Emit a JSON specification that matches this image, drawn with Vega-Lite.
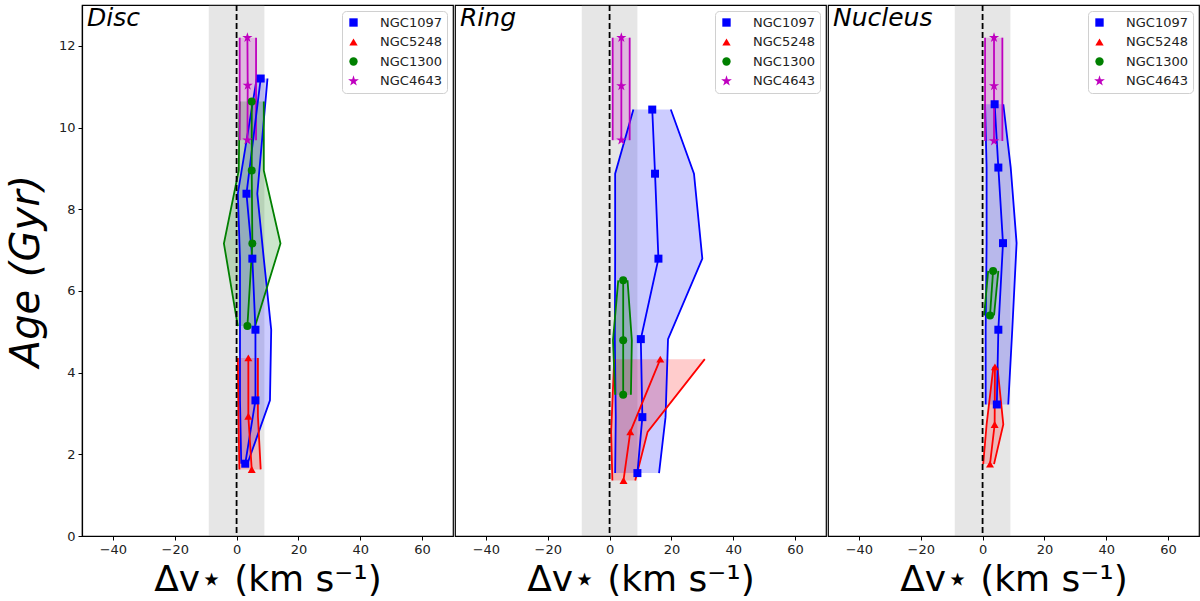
{
  "$schema": "https://vega.github.io/schema/vega-lite/v6.json",
  "padding": {"left": 5, "top": 3, "right": 0, "bottom": 0},
  "background": "white",
  "datasets": {
    "pts": [
      {"panel": "Disc", "galaxy": "NGC1097", "age": 11.2, "v": 7.8, "lo": 6.5, "hi": 10.0},
      {"panel": "Disc", "galaxy": "NGC1097", "age": 8.38, "v": 3.2, "lo": 0.4, "hi": 6.7},
      {"panel": "Disc", "galaxy": "NGC1097", "age": 6.79, "v": 5.1, "lo": 1.1, "hi": 8.8},
      {"panel": "Disc", "galaxy": "NGC1097", "age": 5.05, "v": 6.1, "lo": 1.1, "hi": 11.2},
      {"panel": "Disc", "galaxy": "NGC1097", "age": 3.32, "v": 6.1, "lo": 1.1, "hi": 10.8},
      {"panel": "Disc", "galaxy": "NGC1097", "age": 1.77, "v": 2.8, "lo": 1.5, "hi": 3.5},
      {"panel": "Disc", "galaxy": "NGC5248", "age": 4.36, "v": 3.8, "lo": 0.4, "hi": 6.9},
      {"panel": "Disc", "galaxy": "NGC5248", "age": 2.93, "v": 3.8, "lo": 0.6, "hi": 6.9},
      {"panel": "Disc", "galaxy": "NGC5248", "age": 1.63, "v": 4.9, "lo": 0.9, "hi": 7.8},
      {"panel": "Disc", "galaxy": "NGC1300", "age": 10.64, "v": 4.9, "lo": 1.0, "hi": 8.8},
      {"panel": "Disc", "galaxy": "NGC1300", "age": 8.95, "v": 4.9, "lo": 0.7, "hi": 8.8},
      {"panel": "Disc", "galaxy": "NGC1300", "age": 7.16, "v": 5.1, "lo": -4.1, "hi": 14.2},
      {"panel": "Disc", "galaxy": "NGC1300", "age": 5.14, "v": 3.5, "lo": 0.4, "hi": 6.0},
      {"panel": "Disc", "galaxy": "NGC4643", "age": 12.2, "v": 3.5, "lo": 1.0, "hi": 6.3},
      {"panel": "Disc", "galaxy": "NGC4643", "age": 11.03, "v": 3.6, "lo": 1.0, "hi": 6.3},
      {"panel": "Disc", "galaxy": "NGC4643", "age": 9.69, "v": 3.5, "lo": 1.0, "hi": 6.3},
      {"panel": "Ring", "galaxy": "NGC1097", "age": 10.44, "v": 13.8, "lo": 7.7, "hi": 19.8},
      {"panel": "Ring", "galaxy": "NGC1097", "age": 8.87, "v": 14.7, "lo": 1.8, "hi": 27.3},
      {"panel": "Ring", "galaxy": "NGC1097", "age": 6.79, "v": 15.8, "lo": 1.8, "hi": 30.0},
      {"panel": "Ring", "galaxy": "NGC1097", "age": 4.82, "v": 10.1, "lo": 1.7, "hi": 18.9},
      {"panel": "Ring", "galaxy": "NGC1097", "age": 2.91, "v": 10.6, "lo": 2.0, "hi": 18.1},
      {"panel": "Ring", "galaxy": "NGC1097", "age": 1.54, "v": 9.0, "lo": 1.8, "hi": 16.0},
      {"panel": "Ring", "galaxy": "NGC5248", "age": 4.33, "v": 16.4, "lo": 1.5, "hi": 30.8},
      {"panel": "Ring", "galaxy": "NGC5248", "age": 2.55, "v": 6.7, "lo": 0.5, "hi": 12.3},
      {"panel": "Ring", "galaxy": "NGC5248", "age": 1.36, "v": 4.5, "lo": 0.9, "hi": 8.3},
      {"panel": "Ring", "galaxy": "NGC1300", "age": 6.26, "v": 4.4, "lo": 2.8, "hi": 5.8},
      {"panel": "Ring", "galaxy": "NGC1300", "age": 4.79, "v": 4.4, "lo": 1.1, "hi": 7.2},
      {"panel": "Ring", "galaxy": "NGC1300", "age": 3.46, "v": 4.4, "lo": 1.8, "hi": 6.9},
      {"panel": "Ring", "galaxy": "NGC4643", "age": 12.2, "v": 3.8, "lo": 1.0, "hi": 6.5},
      {"panel": "Ring", "galaxy": "NGC4643", "age": 11.02, "v": 3.8, "lo": 1.0, "hi": 6.5},
      {"panel": "Ring", "galaxy": "NGC4643", "age": 9.69, "v": 3.8, "lo": 1.0, "hi": 6.5},
      {"panel": "Nucleus", "galaxy": "NGC1097", "age": 10.57, "v": 3.9, "lo": 0.8, "hi": 6.7},
      {"panel": "Nucleus", "galaxy": "NGC1097", "age": 9.02, "v": 5.1, "lo": 1.3, "hi": 9.1},
      {"panel": "Nucleus", "galaxy": "NGC1097", "age": 7.17, "v": 6.6, "lo": 1.3, "hi": 11.0},
      {"panel": "Nucleus", "galaxy": "NGC1097", "age": 5.05, "v": 5.1, "lo": 1.0, "hi": 9.6},
      {"panel": "Nucleus", "galaxy": "NGC1097", "age": 3.22, "v": 4.6, "lo": 1.0, "hi": 8.3},
      {"panel": "Nucleus", "galaxy": "NGC5248", "age": 4.14, "v": 4.0, "lo": 3.5, "hi": 4.8},
      {"panel": "Nucleus", "galaxy": "NGC5248", "age": 2.73, "v": 3.9, "lo": 1.3, "hi": 6.7},
      {"panel": "Nucleus", "galaxy": "NGC5248", "age": 1.76, "v": 2.4, "lo": 0.2, "hi": 3.7},
      {"panel": "Nucleus", "galaxy": "NGC1300", "age": 6.49, "v": 3.4, "lo": 1.8, "hi": 5.1},
      {"panel": "Nucleus", "galaxy": "NGC1300", "age": 5.4, "v": 2.4, "lo": 0.5, "hi": 3.7},
      {"panel": "Nucleus", "galaxy": "NGC4643", "age": 12.2, "v": 3.7, "lo": 0.8, "hi": 6.4},
      {"panel": "Nucleus", "galaxy": "NGC4643", "age": 11.02, "v": 3.7, "lo": 0.8, "hi": 6.4},
      {"panel": "Nucleus", "galaxy": "NGC4643", "age": 9.67, "v": 3.7, "lo": 0.8, "hi": 6.4}
    ]
  },
  "resolve": {"scale": {"color": "independent", "shape": "independent"}, "legend": {"color": "independent", "shape": "independent"}},
  "hconcat": [
    {
      "width": 371, "height": 531,
      "layer": [
        {"data": {"values": [{}]}, "mark": {"type": "rect", "color": "#808080", "opacity": 0.2},
         "encoding": {"x": {"datum": -9, "type": "quantitative", "scale": {"domain": [-50, 70], "nice": false, "zero": false}}, "x2": {"datum": 9}}},
        {"data": {"name": "pts"}, "transform": [{"filter": "datum.panel === 'Disc'"}],
         "resolve": {"legend": {"color": "independent", "shape": "independent"}},
         "layer": [
           {"mark": {"type": "area", "orient": "horizontal", "opacity": 0.2},
            "encoding": {
              "y": {"field": "age", "type": "quantitative", "scale": {"domain": [0, 13], "nice": false, "zero": false},
                    "axis": {"values": [0, 2, 4, 6, 8, 10, 12], "title": "Age (Gyr)", "titleFontSize": 40, "titleFontStyle": "italic", "titlePadding": 12}},
              "x": {"field": "lo", "type": "quantitative", "scale": {"domain": [-50, 70], "nice": false, "zero": false},
                    "axis": {"values": [-40, -20, 0, 20, 40, 60], "title": "Δv⋆ (km s⁻¹)", "titleFontSize": 36, "titlePadding": 6}},
              "x2": {"field": "hi"},
              "color": {"field": "galaxy", "type": "nominal", "legend": null, "scale": {"domain": ["NGC1097", "NGC5248", "NGC1300", "NGC4643"], "range": ["#0000ff", "#ff0000", "#008000", "#bf00bf"]}}
            }},
           {"mark": {"type": "line", "strokeWidth": 1.8},
            "encoding": {"y": {"field": "age", "type": "quantitative"}, "x": {"field": "lo", "type": "quantitative"}, "order": {"field": "age"},
              "color": {"field": "galaxy", "type": "nominal", "legend": null}}},
           {"mark": {"type": "line", "strokeWidth": 1.8},
            "encoding": {"y": {"field": "age", "type": "quantitative"}, "x": {"field": "hi", "type": "quantitative"}, "order": {"field": "age"},
              "color": {"field": "galaxy", "type": "nominal", "legend": null}}},
           {"mark": {"type": "line", "strokeWidth": 1.8},
            "encoding": {"y": {"field": "age", "type": "quantitative"}, "x": {"field": "v", "type": "quantitative"}, "order": {"field": "age"},
              "color": {"field": "galaxy", "type": "nominal", "legend": null}}},
           {"mark": {"type": "point", "filled": true, "opacity": 1, "size": 64},
            "encoding": {"y": {"field": "age", "type": "quantitative"}, "x": {"field": "v", "type": "quantitative"},
              "color": {"field": "galaxy", "type": "nominal", "legend": {"title": null}},
              "shape": {"field": "galaxy", "type": "nominal", "legend": {"title": null}, "scale": {"domain": ["NGC1097", "NGC5248", "NGC1300", "NGC4643"], "range": ["square", "triangle-up", "circle", "M0,-1.35L0.303,-0.417L1.284,-0.417L0.49,0.159L0.794,1.092L0,0.516L-0.794,1.092L-0.49,0.159L-1.284,-0.417L-0.303,-0.417Z"]}}}}
         ]},
        {"data": {"values": [{}]}, "mark": {"type": "rule", "color": "black", "strokeWidth": 1.8, "strokeDash": [6, 3]},
         "encoding": {"x": {"datum": 0, "type": "quantitative"}}},
        {"data": {"values": [{"label": "Disc"}]}, "mark": {"type": "text", "align": "left", "baseline": "top", "fontSize": 25, "fontStyle": "italic", "dx": 5, "dy": 1, "color": "black"},
         "encoding": {"x": {"datum": -50, "type": "quantitative"}, "y": {"datum": 13, "type": "quantitative"}, "text": {"field": "label"}}}
      ]
    },
    {
      "width": 371, "height": 531,
      "layer": [
        {"data": {"values": [{}]}, "mark": {"type": "rect", "color": "#808080", "opacity": 0.2},
         "encoding": {"x": {"datum": -9, "type": "quantitative", "scale": {"domain": [-50, 70], "nice": false, "zero": false}}, "x2": {"datum": 9}}},
        {"data": {"name": "pts"}, "transform": [{"filter": "datum.panel === 'Ring'"}],
         "resolve": {"legend": {"color": "independent", "shape": "independent"}},
         "layer": [
           {"mark": {"type": "area", "orient": "horizontal", "opacity": 0.2},
            "encoding": {
              "y": {"field": "age", "type": "quantitative", "scale": {"domain": [0, 13], "nice": false, "zero": false}, "axis": null},
              "x": {"field": "lo", "type": "quantitative", "scale": {"domain": [-50, 70], "nice": false, "zero": false},
                    "axis": {"values": [-40, -20, 0, 20, 40, 60], "title": "Δv⋆ (km s⁻¹)", "titleFontSize": 36, "titlePadding": 6}},
              "x2": {"field": "hi"},
              "color": {"field": "galaxy", "type": "nominal", "legend": null, "scale": {"domain": ["NGC1097", "NGC5248", "NGC1300", "NGC4643"], "range": ["#0000ff", "#ff0000", "#008000", "#bf00bf"]}}
            }},
           {"mark": {"type": "line", "strokeWidth": 1.8},
            "encoding": {"y": {"field": "age", "type": "quantitative"}, "x": {"field": "lo", "type": "quantitative"}, "order": {"field": "age"},
              "color": {"field": "galaxy", "type": "nominal", "legend": null}}},
           {"mark": {"type": "line", "strokeWidth": 1.8},
            "encoding": {"y": {"field": "age", "type": "quantitative"}, "x": {"field": "hi", "type": "quantitative"}, "order": {"field": "age"},
              "color": {"field": "galaxy", "type": "nominal", "legend": null}}},
           {"mark": {"type": "line", "strokeWidth": 1.8},
            "encoding": {"y": {"field": "age", "type": "quantitative"}, "x": {"field": "v", "type": "quantitative"}, "order": {"field": "age"},
              "color": {"field": "galaxy", "type": "nominal", "legend": null}}},
           {"mark": {"type": "point", "filled": true, "opacity": 1, "size": 64},
            "encoding": {"y": {"field": "age", "type": "quantitative"}, "x": {"field": "v", "type": "quantitative"},
              "color": {"field": "galaxy", "type": "nominal", "legend": {"title": null}},
              "shape": {"field": "galaxy", "type": "nominal", "legend": {"title": null}, "scale": {"domain": ["NGC1097", "NGC5248", "NGC1300", "NGC4643"], "range": ["square", "triangle-up", "circle", "M0,-1.35L0.303,-0.417L1.284,-0.417L0.49,0.159L0.794,1.092L0,0.516L-0.794,1.092L-0.49,0.159L-1.284,-0.417L-0.303,-0.417Z"]}}}}
         ]},
        {"data": {"values": [{}]}, "mark": {"type": "rule", "color": "black", "strokeWidth": 1.8, "strokeDash": [6, 3]},
         "encoding": {"x": {"datum": 0, "type": "quantitative"}}},
        {"data": {"values": [{"label": "Ring"}]}, "mark": {"type": "text", "align": "left", "baseline": "top", "fontSize": 25, "fontStyle": "italic", "dx": 5, "dy": 1, "color": "black"},
         "encoding": {"x": {"datum": -50, "type": "quantitative"}, "y": {"datum": 13, "type": "quantitative"}, "text": {"field": "label"}}}
      ]
    },
    {
      "width": 371, "height": 531,
      "layer": [
        {"data": {"values": [{}]}, "mark": {"type": "rect", "color": "#808080", "opacity": 0.2},
         "encoding": {"x": {"datum": -9, "type": "quantitative", "scale": {"domain": [-50, 70], "nice": false, "zero": false}}, "x2": {"datum": 9}}},
        {"data": {"name": "pts"}, "transform": [{"filter": "datum.panel === 'Nucleus'"}],
         "resolve": {"legend": {"color": "independent", "shape": "independent"}},
         "layer": [
           {"mark": {"type": "area", "orient": "horizontal", "opacity": 0.2},
            "encoding": {
              "y": {"field": "age", "type": "quantitative", "scale": {"domain": [0, 13], "nice": false, "zero": false}, "axis": null},
              "x": {"field": "lo", "type": "quantitative", "scale": {"domain": [-50, 70], "nice": false, "zero": false},
                    "axis": {"values": [-40, -20, 0, 20, 40, 60], "title": "Δv⋆ (km s⁻¹)", "titleFontSize": 36, "titlePadding": 6}},
              "x2": {"field": "hi"},
              "color": {"field": "galaxy", "type": "nominal", "legend": null, "scale": {"domain": ["NGC1097", "NGC5248", "NGC1300", "NGC4643"], "range": ["#0000ff", "#ff0000", "#008000", "#bf00bf"]}}
            }},
           {"mark": {"type": "line", "strokeWidth": 1.8},
            "encoding": {"y": {"field": "age", "type": "quantitative"}, "x": {"field": "lo", "type": "quantitative"}, "order": {"field": "age"},
              "color": {"field": "galaxy", "type": "nominal", "legend": null}}},
           {"mark": {"type": "line", "strokeWidth": 1.8},
            "encoding": {"y": {"field": "age", "type": "quantitative"}, "x": {"field": "hi", "type": "quantitative"}, "order": {"field": "age"},
              "color": {"field": "galaxy", "type": "nominal", "legend": null}}},
           {"mark": {"type": "line", "strokeWidth": 1.8},
            "encoding": {"y": {"field": "age", "type": "quantitative"}, "x": {"field": "v", "type": "quantitative"}, "order": {"field": "age"},
              "color": {"field": "galaxy", "type": "nominal", "legend": null}}},
           {"mark": {"type": "point", "filled": true, "opacity": 1, "size": 64},
            "encoding": {"y": {"field": "age", "type": "quantitative"}, "x": {"field": "v", "type": "quantitative"},
              "color": {"field": "galaxy", "type": "nominal", "legend": {"title": null}},
              "shape": {"field": "galaxy", "type": "nominal", "legend": {"title": null}, "scale": {"domain": ["NGC1097", "NGC5248", "NGC1300", "NGC4643"], "range": ["square", "triangle-up", "circle", "M0,-1.35L0.303,-0.417L1.284,-0.417L0.49,0.159L0.794,1.092L0,0.516L-0.794,1.092L-0.49,0.159L-1.284,-0.417L-0.303,-0.417Z"]}}}}
         ]},
        {"data": {"values": [{}]}, "mark": {"type": "rule", "color": "black", "strokeWidth": 1.8, "strokeDash": [6, 3]},
         "encoding": {"x": {"datum": 0, "type": "quantitative"}}},
        {"data": {"values": [{"label": "Nucleus"}]}, "mark": {"type": "text", "align": "left", "baseline": "top", "fontSize": 25, "fontStyle": "italic", "dx": 5, "dy": 1, "color": "black"},
         "encoding": {"x": {"datum": -50, "type": "quantitative"}, "y": {"datum": 13, "type": "quantitative"}, "text": {"field": "label"}}}
      ]
    }
  ],
  "config": {
    "font": "DejaVu Sans",
    "concat": {"spacing": 0},
    "view": {"stroke": "black", "strokeWidth": 1.2},
    "axis": {"grid": false, "domainColor": "black", "domainWidth": 1.2, "tickColor": "black", "tickSize": 4, "labelColor": "#222222", "labelFontSize": 13, "labelPadding": 3, "titleColor": "black", "titleFontWeight": "normal"},
    "legend": {"orient": "top-right", "offset": 6, "fillColor": "white", "strokeColor": "#d0d0d0", "cornerRadius": 4, "padding": 5, "labelFontSize": 13, "labelColor": "#222222", "symbolSize": 70, "symbolStrokeWidth": 0, "rowPadding": 5.5, "labelOffset": 20}
  }
}
